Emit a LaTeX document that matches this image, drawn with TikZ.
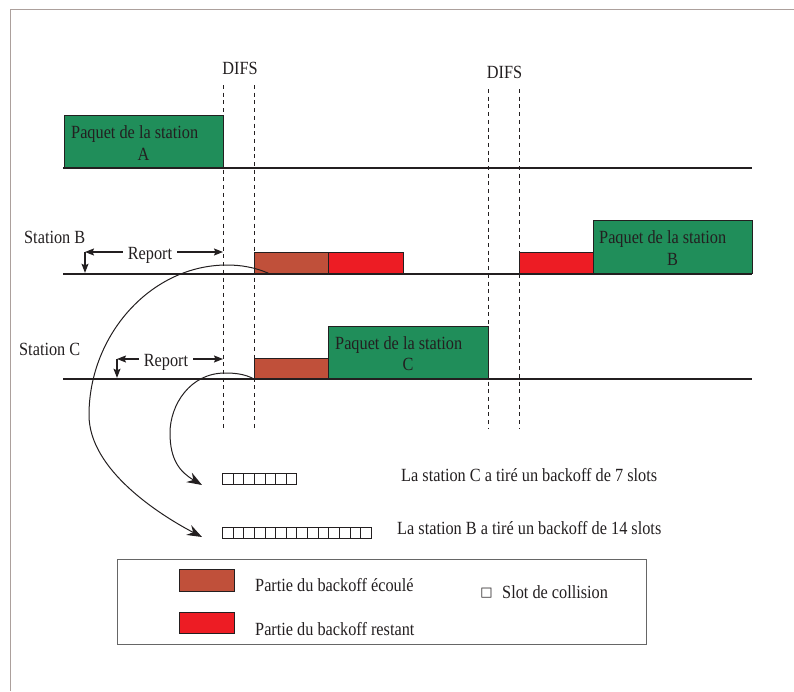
\documentclass[tikz,border=0pt]{standalone}
\usepackage{fontspec}
\setmainfont{Liberation Serif}[FakeStretch=0.875]
\newfontfamily\symfont{DejaVu Sans}
\usetikzlibrary{arrows.meta}

\definecolor{vertpaquet}{RGB}{32,142,90}
\definecolor{brunecoule}{RGB}{192,80,58}
\definecolor{rougerestant}{RGB}{237,28,36}
\definecolor{griscadre}{RGB}{172,160,156}
\definecolor{encre}{RGB}{35,31,32}

\tikzset{
  txt/.style={font=\fontsize{18.6pt}{22pt}\selectfont, text=encre, inner sep=0pt},
  boite/.style={draw=encre, line width=0.9pt, inner sep=0pt, anchor=south west},
  paquet/.style={boite, fill=vertpaquet},
  ecoule/.style={boite, fill=brunecoule},
  restant/.style={boite, fill=rougerestant},
  ligne/.style={draw=encre, line width=2.2pt},
  difs/.style={draw=encre, line width=1pt, dash pattern=on 4pt off 3.7pt},
  rapport/.style={draw=encre, line width=1.1pt, -{Stealth[length=9pt,width=7pt,inset=1.5pt]}},
  rapport2/.style={draw=encre, line width=1.1pt, {Stealth[length=9pt,width=7pt,inset=1.5pt]}-{Stealth[length=9pt,width=7pt,inset=1.5pt]}},
  fleche/.style={draw=encre, line width=1pt, -{Stealth[length=15pt,width=11pt,inset=5pt]}},
  slot/.style={draw=encre, line width=0.8pt, minimum width=10.64pt, minimum height=11pt, inner sep=0pt, anchor=south west},
}

\begin{document}
\begin{tikzpicture}[x=1pt, y=-1pt]
  \useasboundingbox (0,0) rectangle (794,691);

  % Cadre
  \coordinate (cadreB) at (10.3,691);
  \coordinate (cadreH) at (10.3,9.3);
  \coordinate (cadreD) at (794,9.3);
  \draw[draw=griscadre, line width=1.2pt] (cadreB) -- (cadreH) -- (cadreD);

  % DIFS
  \node[txt, anchor=base] at (240, 74) (difsA) {DIFS};
  \node[txt, anchor=base] at (504.5, 78) (difsB) {DIFS};
  \coordinate (d1h) at (223,85);  \coordinate (d1b) at (223,428);
  \coordinate (d2h) at (254,85);  \coordinate (d2b) at (254,428);
  \coordinate (d3h) at (488,89);  \coordinate (d3b) at (488,428);
  \coordinate (d4h) at (519,89);  \coordinate (d4b) at (519,428);
  \draw[difs] (d1h) -- (d1b);
  \draw[difs] (d2h) -- (d2b);
  \draw[difs] (d3h) -- (d3b);
  \draw[difs] (d4h) -- (d4b);

  % Station A
  \node[paquet, minimum width=159pt, minimum height=52pt] at (64,168) (pA) {};
  \node[txt, anchor=base west] at (71,138) (tA) {Paquet de la station};
  \node[txt, anchor=base] at (143.5,160) (nA) {A};

  % Station B
  \node[txt, anchor=base west] at (24,243) (stB) {Station B};
  \node[ecoule, minimum width=74pt, minimum height=21pt] at (254,274) (eB) {};
  \node[restant, minimum width=75pt, minimum height=21pt] at (328,274) (rB) {};
  \node[restant, minimum width=74pt, minimum height=21pt] at (519,274) (rB2) {};
  \node[paquet, minimum width=159pt, minimum height=53pt] at (593,274) (pB) {};
  \node[txt, anchor=base west] at (599,243) (tB) {Paquet de la station};
  \node[txt, anchor=base] at (672.5,265) (nB) {B};

  % Station C
  \node[txt, anchor=base west] at (19,355) (stC) {Station C};
  \node[ecoule, minimum width=74pt, minimum height=20pt] at (254,379) (eC) {};
  \node[paquet, minimum width=160pt, minimum height=52pt] at (328,379) (pC) {};
  \node[txt, anchor=base west] at (335,349) (tC) {Paquet de la station};
  \node[txt, anchor=base] at (408,370) (nC) {C};

  % Lignes du temps
  \coordinate (lA0) at (63,168); \coordinate (lA1) at (752,168);
  \coordinate (lB0) at (63,274); \coordinate (lB1) at (752,274);
  \coordinate (lC0) at (63,379); \coordinate (lC1) at (752,379);
  \draw[ligne] (lA0) -- (lA1);
  \draw[ligne] (lB0) -- (lB1);
  \draw[ligne] (lC0) -- (lC1);

  % Report
  \coordinate (rBg) at (85,252); \coordinate (rBd) at (223,252); \coordinate (rBb) at (85,272.8);
  \draw[rapport] (rBg) -- (rBb);
  \draw[rapport2] (rBg) -- (rBd);
  \node[txt, fill=white, inner xsep=5pt, inner ysep=1pt, anchor=base] at (150,259) (repB) {Report};
  \coordinate (rCg) at (117,359); \coordinate (rCd) at (223,359); \coordinate (rCb) at (117,377.8);
  \draw[rapport] (rCg) -- (rCb);
  \draw[rapport2] (rCg) -- (rCd);
  \node[txt, fill=white, inner xsep=5pt, inner ysep=1pt, anchor=base] at (166,366) (repC) {Report};

  % Slots tires
  \foreach \i in {0,...,6}
    \node[slot] at (222+10.64*\i, 485) (sC\i) {};
  \foreach \i in {0,...,13}
    \node[slot] at (222+10.64*\i, 539) (sB\i) {};
  \node[txt, anchor=base west] at (401,481) (bC) {La station C a tiré un backoff de 7 slots};
  \node[txt, anchor=base west] at (397,534) (bB) {La station B a tiré un backoff de 14 slots};

  % Fleches courbes
  \coordinate (aB0) at (270,274); \coordinate (aB1) at (202,537);
  \draw[fleche] (aB0) .. controls (255,267) and (240,265) .. (227,265)
    .. controls (151,265) and (89,335) .. (89,415)
    .. controls (89,470) and (160,515) .. (aB1);
  \coordinate (aC0) at (254,379); \coordinate (aC1) at (202,485);
  \draw[fleche] (aC0) .. controls (245,374) and (235,373) .. (225,373)
    .. controls (190,373) and (170,405) .. (170,433)
    .. controls (170,460) and (180,472) .. (aC1);

  % Legende
  \node[draw=black!60, line width=1.3pt, minimum width=529pt, minimum height=85pt, inner sep=0pt, anchor=north west] at (117,559) (leg) {};
  \node[ecoule, minimum width=55pt, minimum height=22pt] at (179,592) (legE) {};
  \node[restant, minimum width=55pt, minimum height=21pt] at (179,634) (legR) {};
  \node[txt, anchor=base west] at (255,591) (tE) {Partie du backoff écoulé};
  \node[txt, anchor=base west] at (255,635) (tR) {Partie du backoff restant};
  \node[txt, anchor=center] at (486.5,593) (carre) {\symfont\fontsize{13pt}{15pt}\selectfont □};
  \node[txt, anchor=base west] at (502,598) (tS) {Slot de collision};
\end{tikzpicture}
\end{document}
